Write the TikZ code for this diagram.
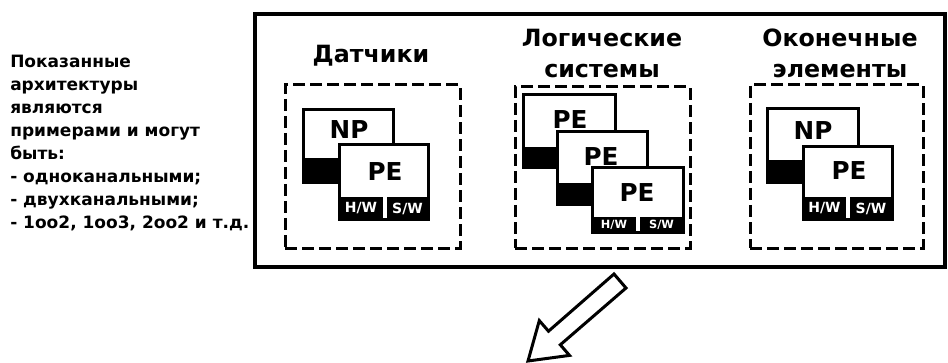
\documentclass[tikz,border=0pt]{standalone}
\usepackage{fontspec}
\setmainfont{DejaVu Sans}
\usetikzlibrary{fit}
\begin{document}
\begin{tikzpicture}[x=0.75pt,y=-0.75pt,
  frame/.style={draw, line width=3pt, inner sep=0pt},
  group/.style={draw, line width=2.25pt, dash pattern=on 9pt off 3.75pt, inner sep=0pt},
  unit/.style={draw, line width=2.25pt, fill=white, inner sep=0pt},
  blk/.style={fill=black, inner sep=0pt},
  ttl/.style={font=\bfseries\fontsize{17.8}{22}\selectfont, anchor=base, inner sep=0pt},
  big/.style={font=\bfseries\fontsize{18.5}{20}\selectfont, inner sep=0pt},
  hw/.style={font=\bfseries\fontsize{10.5}{11}\selectfont, text=white, inner sep=0pt},
  hws/.style={font=\bfseries\fontsize{8.5}{9}\selectfont, text=white, inner sep=0pt},
]
\useasboundingbox (0,0) rectangle (948,363);

% note
\node[anchor=north west, inner sep=0pt, align=left,
      font=\bfseries\fontsize{12.75}{17.25}\selectfont] (note) at (10,55)
  {Показанные\\архитектуры\\являются\\примерами и могут\\быть:\\- одноканальными;\\- двухканальными;\\- 1oo2, 1oo3, 2oo2 и т.д.};

% outer frame
\node[frame, fit={(255,14)(945,267)}] (outer) {};

% titles
\node[ttl] (t1) at (371,63) {Датчики};
\node[ttl] (t2a) at (602,47) {Логические};
\node[ttl] (t2b) at (602,78) {системы};
\node[ttl] (t3a) at (840,47) {Оконечные};
\node[ttl] (t3b) at (840,78) {элементы};

% dashed groups
\node[group, fit={(285,85)(460,248)}] (g1) {};
\node[group, fit={(515,87)(690,248)}] (g2) {};
\node[group, fit={(750,85)(923,248)}] (g3) {};

% ---- sensors
\node[blk, fit={(303,158)(393,183)}] (s1strip) {};
\node[unit, fill=none, fit={(303,110)(393,183)}] (s1np) {};
\node[big] (s1nptxt) at (349,130) {NP};
\node[unit, fit={(339,145)(428,220)}] (s1pe) {};
\node[big] (s1petxt) at (385,172) {PE};
\node[blk, fit={(339,197)(383,220)}] (s1hw) {};
\node[blk, fit={(387,197)(428,220)}] (s1sw) {};
\node[hw] at (s1hw.center) {H/W};
\node[hw] at (s1sw.center) {S/W};

% ---- logic systems
\node[blk, fit={(523,147)(615,168)}] (l1strip) {};
\node[unit, fill=none, fit={(523,95)(615,168)}] (l1pe) {};
\node[big] (l1txt) at (570,120) {PE};
\node[unit, fit={(557,132)(647,205)}] (l2pe) {};
\node[blk, fit={(557,183)(647,205)}] (l2strip) {};
\node[unit, fill=none, fit={(557,132)(647,205)}] (l2pe) {};
\node[big] (l2txt) at (601,157) {PE};
\node[unit, fit={(592,168)(683,232)}] (l3pe) {};
\node[big] (l3txt) at (637,193) {PE};
\node[blk, fit={(592,217)(636,232)}] (l3hw) {};
\node[blk, fit={(640,217)(683,232)}] (l3sw) {};
\node[hws] at (l3hw.center) {H/W};
\node[hws] at (l3sw.center) {S/W};

% ---- final elements
\node[blk, fit={(767,160)(858,183)}] (f1strip) {};
\node[unit, fill=none, fit={(767,109)(858,183)}] (f1np) {};
\node[big] (f1nptxt) at (813,131) {NP};
\node[unit, fit={(803,147)(892,220)}] (f1pe) {};
\node[big] (f1petxt) at (849,171) {PE};
\node[blk, fit={(803,197)(846,220)}] (f1hw) {};
\node[blk, fit={(850,197)(892,220)}] (f1sw) {};
\node[hw] at (f1hw.center) {H/W};
\node[hw] at (f1sw.center) {S/W};

% ---- hollow arrow
\coordinate (a1) at (614,274);
\coordinate (a2) at (548.5,331.2);
\coordinate (a3) at (539.3,320.6);
\coordinate (tip) at (528,361);
\coordinate (a5) at (569.5,355.4);
\coordinate (a6) at (560.3,344.8);
\coordinate (a7) at (626,288);
\draw[line width=2.25pt, line join=miter, fill=white]
  (a1) -- (a2) -- (a3) -- (tip) -- (a5) -- (a6) -- (a7) -- cycle;
\end{tikzpicture}
\end{document}
